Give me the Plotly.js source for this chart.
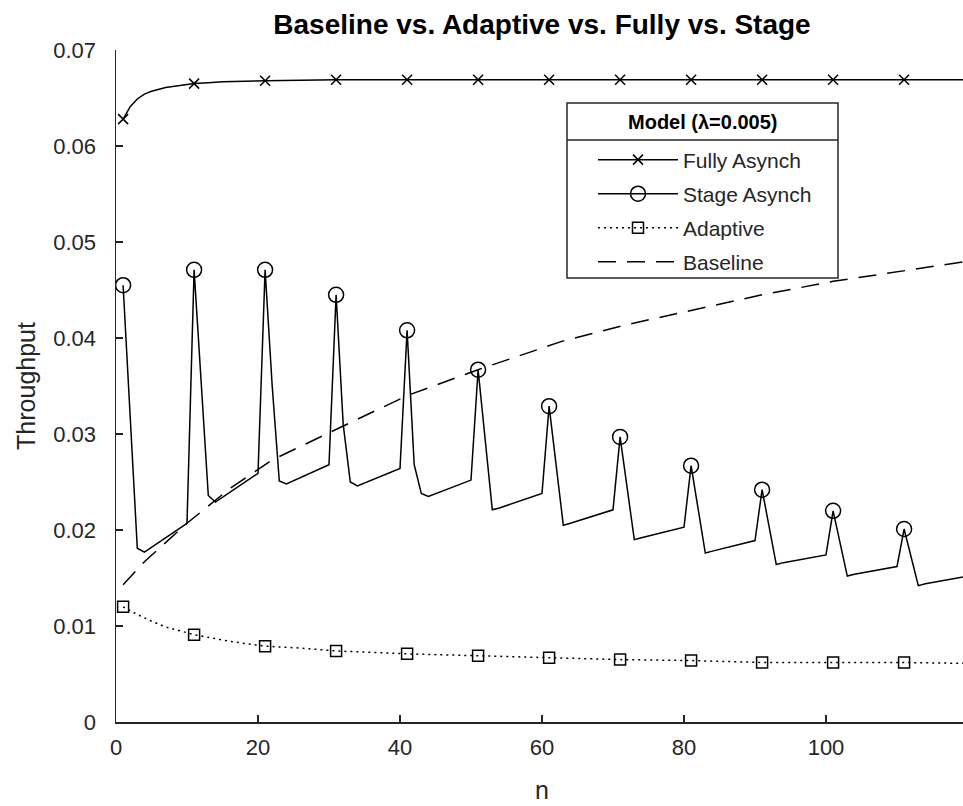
<!DOCTYPE html>
<html>
<head>
<meta charset="utf-8">
<script src="https://cdn.plot.ly/plotly-3.0.1.min.js"></script>
<style>
  html, body { margin: 0; padding: 0; overflow: hidden; background: #fff; }
  #chart { width: 980px; height: 806px; }
</style>
</head>
<body>
<div id="chart"></div>
<script>
// ---------------- data ----------------
const fullyN = [1, 2, 3, 4, 5, 6, 7, 8, 9, 10, 11, 13, 15, 21, 31, 120];
const fullyY = [0.0628, 0.0641, 0.0649, 0.0654, 0.0657, 0.0659, 0.0661, 0.0662, 0.0663, 0.0664, 0.0665, 0.0666, 0.0667, 0.0668, 0.0669, 0.0669];
const fullyMarkN = [1, 11, 21, 31, 41, 51, 61, 71, 81, 91, 101, 111];
const fullyMarkY = [0.0628, 0.0665, 0.0668, 0.0669, 0.0669, 0.0669, 0.0669, 0.0669, 0.0669, 0.0669, 0.0669, 0.0669];

const stageN = [1, 2, 3, 4, 10, 11, 12, 13, 14, 20, 21, 22, 23, 24, 30, 31, 32, 33, 34, 40,
                41, 42, 43, 44, 50, 51, 52, 53, 54, 60, 61, 62, 63, 64, 70, 71, 72, 73, 74, 80,
                81, 82, 83, 84, 90, 91, 92, 93, 94, 100, 101, 102, 103, 104, 110, 111, 112, 113, 114, 120];
const stageY = [0.0455, 0.0312, 0.0181, 0.0177, 0.0207,
                0.0471, 0.0355, 0.0236, 0.0229, 0.0259,
                0.0471, 0.0350, 0.0251, 0.0248, 0.0268,
                0.0445, 0.0310, 0.0250, 0.0246, 0.0264,
                0.0408, 0.0268, 0.0238, 0.0235, 0.0252,
                0.0367, 0.0294, 0.0221, 0.0223, 0.0238,
                0.0329, 0.0267, 0.0205, 0.0207, 0.0221,
                0.0297, 0.0243, 0.0190, 0.0192, 0.0203,
                0.0267, 0.0221, 0.0176, 0.0178, 0.0189,
                0.0242, 0.0203, 0.0164, 0.0166, 0.0174,
                0.0220, 0.0186, 0.0152, 0.0154, 0.0162,
                0.0201, 0.0172, 0.0142, 0.0144, 0.0152];
const stageMarkN = [1, 11, 21, 31, 41, 51, 61, 71, 81, 91, 101, 111];
const stageMarkY = [0.0455, 0.0471, 0.0471, 0.0445, 0.0408, 0.0367, 0.0329, 0.0297, 0.0267, 0.0242, 0.0220, 0.0201];

const adaptN = [1, 3, 5, 7, 9, 11, 16, 21, 26, 31, 41, 51, 61, 71, 81, 91, 101, 111, 120];
const adaptY = [0.0120, 0.0112, 0.0105, 0.0099, 0.0095, 0.0091, 0.0084, 0.0079, 0.0077, 0.0074, 0.0071, 0.0069, 0.0067, 0.0065, 0.0064, 0.0062, 0.0062, 0.0062, 0.0061];
const adaptMarkN = [1, 11, 21, 31, 41, 51, 61, 71, 81, 91, 101, 111];
const adaptMarkY = [0.0120, 0.0091, 0.0079, 0.0074, 0.0071, 0.0069, 0.0067, 0.0065, 0.0064, 0.0062, 0.0062, 0.0062];

const baseN = [1, 4, 10, 16, 22, 31, 41, 51, 63, 72, 81, 91, 101, 110, 120];
const baseY = [0.0143, 0.0167, 0.0207, 0.0243, 0.0273, 0.0305, 0.0340, 0.0367, 0.0397, 0.0414, 0.0429, 0.0445, 0.0459, 0.0469, 0.0480];

const seriesNames = ['Fully Asynch', 'Stage Asynch', 'Adaptive', 'Baseline'];
const xTickVals = [0, 20, 40, 60, 80, 100];
const yTickVals = [0, 0.01, 0.02, 0.03, 0.04, 0.05, 0.06, 0.07];
const yTickText = ['0', '0.01', '0.02', '0.03', '0.04', '0.05', '0.06', '0.07'];
const chartTitle = 'Baseline vs. Adaptive vs. Fully vs. Stage';
const legendTitle = 'Model (λ=0.005)';
const xTitle = 'n';
const yTitle = 'Throughput';

// ---------------- styles ----------------
const FONT = 'Liberation Sans, Arial, Helvetica, sans-serif';
const TXT = '#262626';
const LW = 1.5;
const styles = [
  { line: { color: '#000', width: LW, dash: 'solid' }, marker: { symbol: 'x-thin-open', size: 10, color: '#000', line: { color: '#000', width: LW } } },
  { line: { color: '#000', width: LW, dash: 'solid' }, marker: { symbol: 'circle-open', size: 15, color: '#000', line: { color: '#000', width: LW } } },
  { line: { color: '#000', width: LW, dash: '2px,4px' }, marker: { symbol: 'square-open', size: 11, color: '#000', line: { color: '#000', width: LW } } },
  { line: { color: '#000', width: LW, dash: '18px,11px' }, marker: null }
];

const lineSets = [[fullyN, fullyY], [stageN, stageY], [adaptN, adaptY], [baseN, baseY]];
const markSets = [[fullyMarkN, fullyMarkY], [stageMarkN, stageMarkY], [adaptMarkN, adaptMarkY], null];
const legendIds = ['legend', 'legend2', 'legend3', 'legend4'];

const traces = [];
lineSets.forEach((s, i) => {
  traces.push({ type: 'scatter', mode: 'lines', x: s[0], y: s[1], line: styles[i].line,
                showlegend: false, hoverinfo: 'skip' });
  if (markSets[i]) {
    traces.push({ type: 'scatter', mode: 'markers', x: markSets[i][0], y: markSets[i][1],
                  marker: styles[i].marker, showlegend: false, hoverinfo: 'skip' });
  }
  // legend-only entry (no drawn data)
  const lg = { type: 'scatter', mode: styles[i].marker ? 'lines+markers' : 'lines',
               x: [null], y: [null], name: seriesNames[i], line: styles[i].line,
               legend: legendIds[i], showlegend: true };
  if (styles[i].marker) lg.marker = styles[i].marker;
  traces.push(lg);
});

// plot area in px: x 116..968, y 50..722
const L = 116, R = 968, T = 50, B = 722;
const px = v => (v - L) / (R - L);
const py = v => (B - v) / (B - T);

const legendItemY = [160, 194, 228, 262];
const legendFont = { family: FONT, size: 21, color: TXT };
const layout = {
  width: 980, height: 806,
  margin: { l: L, r: 980 - R, t: T, b: 806 - B, pad: 0 },
  paper_bgcolor: '#fff', plot_bgcolor: '#fff',
  font: { family: FONT, color: TXT },
  title: { text: '<b>' + chartTitle + '</b>', font: { family: FONT, size: 28, color: '#000' },
           x: 0.5, xref: 'paper', xanchor: 'center', y: 1 - 24 / 806, yref: 'container', yanchor: 'middle' },
  xaxis: { range: [0, 120], tickvals: xTickVals, ticks: 'inside', ticklen: 7, tickwidth: 1.2, tickcolor: TXT,
           showline: true, linecolor: TXT, linewidth: 1.5, showgrid: false, zeroline: false,
           ticklabelstandoff: 5,
           tickfont: { family: FONT, size: 22, color: TXT },
           title: { text: xTitle, font: { family: FONT, size: 25, color: TXT }, standoff: 22 } },
  yaxis: { range: [0, 0.07], tickvals: yTickVals, ticktext: yTickText, ticks: 'inside', ticklen: 7, tickwidth: 1.2, tickcolor: TXT,
           showline: true, linecolor: TXT, linewidth: 1.5, showgrid: false, zeroline: false,
           ticklabelstandoff: 14,
           tickfont: { family: FONT, size: 22, color: TXT },
           title: { text: yTitle, font: { family: FONT, size: 25, color: TXT }, standoff: 10 } },
  shapes: [
    { type: 'rect', xref: 'paper', yref: 'paper', x0: px(567), x1: px(838), y0: py(278), y1: py(103),
      line: { color: TXT, width: 1.5 }, fillcolor: '#fff', layer: 'above' },
    { type: 'line', xref: 'paper', yref: 'paper', x0: px(567), x1: px(838), y0: py(140), y1: py(140),
      line: { color: TXT, width: 1.5 }, layer: 'above' }
  ],
  annotations: [
    { text: '<b>' + legendTitle + '</b>', xref: 'paper', yref: 'paper', x: px(702.5), y: py(122),
      xanchor: 'center', yanchor: 'middle', showarrow: false, font: { family: FONT, size: 20, color: '#000' } }
  ]
};
legendIds.forEach((id, i) => {
  layout[id] = { x: px(593), y: py(legendItemY[i]), xanchor: 'left', yanchor: 'middle',
                 bgcolor: 'rgba(0,0,0,0)', borderwidth: 0, itemwidth: 80, font: legendFont,
                 itemclick: false, itemdoubleclick: false };
});

Plotly.newPlot('chart', traces, layout, { displayModeBar: false, staticPlot: true });
</script>
</body>
</html>
